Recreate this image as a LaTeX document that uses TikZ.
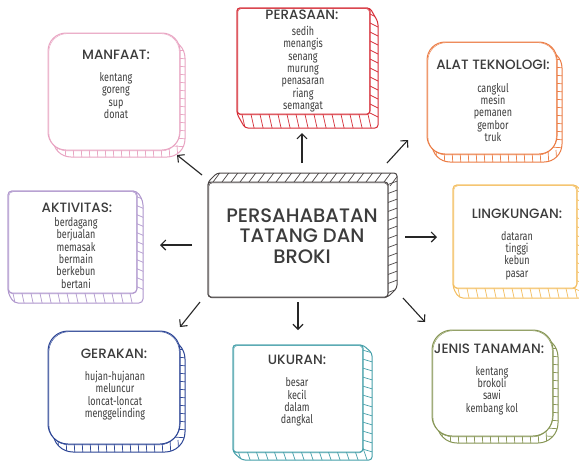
\documentclass[tikz,border=0pt]{standalone}
\usepackage{fontspec}
\setmainfont{Fira Sans}
\newfontfamily\itemfont{Fira Sans}[FakeStretch=0.75]
\newfontfamily\titlefont{Poppins Medium}
\usetikzlibrary{arrows.meta}
\definecolor{cpink}{RGB}{233,165,195}
\definecolor{cred}{RGB}{214,45,55}
\definecolor{corange}{RGB}{236,125,70}
\definecolor{cyellow}{RGB}{244,190,95}
\definecolor{cgreen}{RGB}{135,150,85}
\definecolor{cteal}{RGB}{70,160,170}
\definecolor{cblue}{RGB}{45,70,150}
\definecolor{cpurple}{RGB}{175,150,205}
\definecolor{cdark}{RGB}{75,70,70}
\definecolor{ink}{RGB}{60,60,60}
\tikzset{
  ttl/.style={font=\titlefont\fontsize{13.5}{13.5}\selectfont, text=ink, inner sep=0pt},
  items/.style={font=\itemfont\fontsize{12}{12.3}\selectfont, text=ink, align=center, inner sep=0pt},
  arr/.style={-{Straight Barb[length=5pt,width=10pt]}, line width=1.1pt, draw=black!85},
}
% hull-shaped depth (square boxes)
% #1,#2 top-left ; #3,#4 bottom-right ; #5,#6 depth (down-right) ; #7 radius ; #8 colour
\newcommand\sketchboxH[8]{%
  \pgfmathsetmacro\skXa{#3+#5}\pgfmathsetmacro\skYa{#2+#6}%
  \pgfmathsetmacro\skYb{#4+#6}\pgfmathsetmacro\skXb{#1+#5}%
  \pgfmathsetmacro\skA{#1+4}\pgfmathsetmacro\skB{#1+13}%
  \pgfmathsetmacro\skC{#2+4}\pgfmathsetmacro\skD{#2+13}%
  \begin{scope}[line width=1pt, draw=#8]
    \fill[white, rounded corners=#7] (#1,#2) -- (#3,#2) -- (\skXa,\skYa) -- (\skXa,\skYb) -- (\skXb,\skYb) -- (#1,#4) -- cycle;
    \begin{scope}
      \clip[rounded corners=#7] (#1,#2) -- (#3,#2) -- (\skXa,\skYa) -- (\skXa,\skYb) -- (\skXb,\skYb) -- (#1,#4) -- cycle;
      \begin{scope}[line width=0.7pt]
        \foreach \t in {\skA,\skB,...,#3} \draw (\t,#4-4) -- ++(0.5*#5+1,#6+8);
        \foreach \t in {\skC,\skD,...,#4} \draw (#3-4,\t) -- ++(#5+8,0.5*#6+1);
      \end{scope}
    \end{scope}
    \draw[rounded corners=#7] (#1,#2) -- (#3,#2) -- (\skXa,\skYa) -- (\skXa,\skYb) -- (\skXb,\skYb) -- (#1,#4) -- cycle;
    \draw[fill=white, rounded corners=#7] (#1,#2) rectangle (#3,#4);
    \draw[line width=0.45pt, rounded corners=#7] ([shift={(0.9,0.7)}]#1,#2) rectangle ([shift={(-0.7,0.9)}]#3,#4);
  \end{scope}}
% shifted-copy depth (rounded boxes)
\newcommand\sketchboxU[8]{%
  \pgfmathsetmacro\skA{#1+#7*0.5}\pgfmathsetmacro\skB{\skA+8}%
  \pgfmathsetmacro\skC{#2+#7*0.5}\pgfmathsetmacro\skD{\skC+8}%
  \begin{scope}[line width=1pt, draw=#8]
    \begin{scope}[shift={(#5,#6)}]
      \fill[white, rounded corners=#7] (#1,#2) rectangle (#3,#4);
      \begin{scope}
        \clip[rounded corners=#7] (#1,#2) rectangle (#3,#4);
        \foreach \t in {\skA,\skB,...,#3} \draw[line width=0.7pt] (\t-#5,#4-12) -- ++(1,16);
        \foreach \t in {\skC,\skD,...,#4} \draw[line width=0.7pt] (#3-12,\t-#6) -- ++(16,1);
      \end{scope}
      \draw[rounded corners=#7] (#1,#2) rectangle (#3,#4);
    \end{scope}
    \draw[fill=white, rounded corners=#7] (#1,#2) rectangle (#3,#4);
    \draw[line width=0.45pt, rounded corners=#7] ([shift={(0.9,0.7)}]#1,#2) rectangle ([shift={(-0.7,0.9)}]#3,#4);
  \end{scope}}
\begin{document}
\begin{tikzpicture}[x=1pt,y=-1pt]
\useasboundingbox (0,0) rectangle (579,461);
\fill[white] (0,0) rectangle (579,461);
% boxes
\sketchboxU{48}{33}{180}{150}{5}{7}{18}{cpink}
\sketchboxH{237}{8}{370}{114}{8}{14}{3}{cred}
\sketchboxU{427}{42}{557}{154}{5}{8}{18}{corange}
\sketchboxH{453}{185}{577}{288}{6}{10}{4}{cyellow}
\sketchboxU{432}{330}{553}{436}{5}{7}{20}{cgreen}
\sketchboxH{233}{345}{363}{452}{9}{8}{3}{cteal}
\sketchboxU{48}{331}{180}{444}{5}{8}{20}{cblue}
\sketchboxH{8}{191}{137}{293}{6}{10}{4}{cpurple}
% central box, depth up-right
\begin{scope}[line width=1pt, draw=cdark]
  \fill[white, rounded corners=3] (208,297) -- (208,182) -- (217,173) -- (397,173) -- (397,288) -- (388,297) -- cycle;
  \begin{scope}
    \clip[rounded corners=3] (208,297) -- (208,182) -- (217,173) -- (397,173) -- (397,288) -- (388,297) -- cycle;
    \foreach \t in {212,221,...,392} \draw[line width=0.7pt] (\t-2,186) -- ++(12,-16);
    \foreach \t in {186,195,...,297} \draw[line width=0.7pt] (384,\t) -- ++(16,-6);
  \end{scope}
  \draw[rounded corners=3] (208,297) -- (208,182) -- (217,173) -- (397,173) -- (397,288) -- (388,297) -- cycle;
  \draw[fill=white, rounded corners=3] (208,182) rectangle (388,297);
  \draw[line width=0.45pt, rounded corners=3] (209,183) rectangle (387.5,298);
\end{scope}
% texts
\node[font=\titlefont\fontsize{19.5}{20.5}\selectfont, text=ink, align=center, inner sep=0pt] (central) at (302,236) {PERSAHABATAN\\TATANG DAN\\BROKI};
\node[ttl] (tmanfaat) at (116,55) {MANFAAT:};
\node[items] (imanfaat) at (116,95.5) {kentang\\goreng\\sup\\donat};
\node[ttl] (tperasaan) at (302,15) {PERASAAN:};
\node[items] (iperasaan) at (303,69) {sedih\\menangis\\senang\\murung\\penasaran\\riang\\semangat};
\node[ttl] (talat) at (493,65) {ALAT TEKNOLOGI:};
\node[items] (ialat) at (493,112.5) {cangkul\\mesin\\pemanen\\gembor\\truk};
\node[ttl] (tling) at (517,214) {LINGKUNGAN:};
\node[items] (iling) at (517,255.5) {dataran\\tinggi\\kebun\\pasar};
\node[ttl] (tjenis) at (489,349) {JENIS TANAMAN:};
\node[items] (ijenis) at (492,390.5) {kentang\\brokoli\\sawi\\kembang kol};
\node[ttl] (tukuran) at (297,360) {UKURAN:};
\node[items] (iukuran) at (297,402) {besar\\kecil\\dalam\\dangkal};
\node[ttl] (tgerakan) at (114,354) {GERAKAN:};
\node[items] (igerakan) at (115,395.5) {hujan-hujanan\\meluncur\\loncat-loncat\\menggelinding};
\node[ttl] (taktiv) at (77,208) {AKTIVITAS:};
\node[items] (iaktiv) at (76,253) {berdagang\\berjualan\\memasak\\bermain\\berkebun\\bertani};
% arrows
\coordinate (a1s) at (202,175); \coordinate (a1e) at (177,155);
\coordinate (a2s) at (302,163); \coordinate (a2e) at (302,133);
\coordinate (a3s) at (387,163); \coordinate (a3e) at (408,140);
\coordinate (a4s) at (405,237); \coordinate (a4e) at (437,237);
\coordinate (a5s) at (403,298); \coordinate (a5e) at (425,322);
\coordinate (a6s) at (298,302); \coordinate (a6e) at (298,330);
\coordinate (a7s) at (200,302); \coordinate (a7e) at (180,327);
\coordinate (a8s) at (192,245); \coordinate (a8e) at (160,245);
\foreach \i in {1,...,8} \draw[arr] (a\i s) -- (a\i e);
\end{tikzpicture}
\end{document}
